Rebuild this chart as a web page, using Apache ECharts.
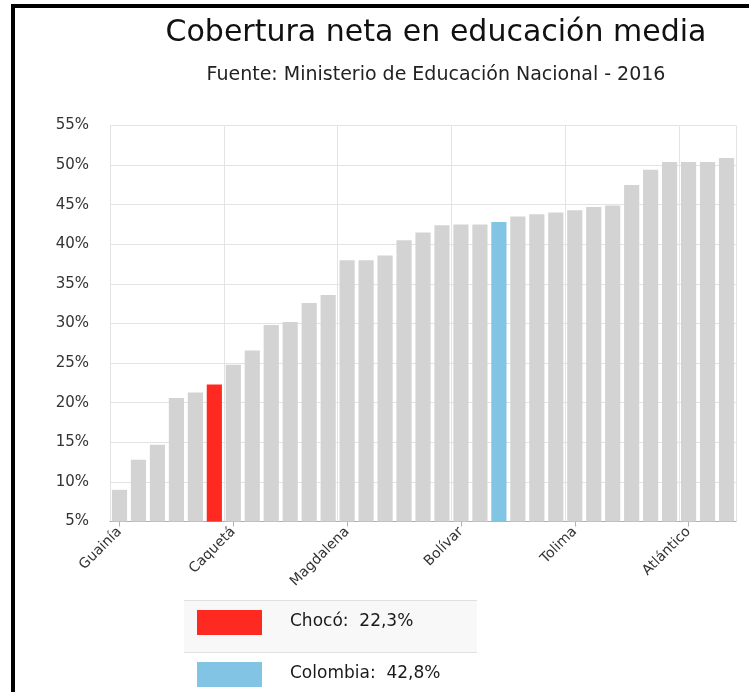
<!DOCTYPE html>
<html>
<head>
<meta charset="utf-8">
<script src="https://cdn.jsdelivr.net/npm/echarts@6/dist/echarts.min.js"></script>
<style>
  html, body { margin: 0; padding: 0; background: #fff; overflow: hidden; }
  #chart { width: 749px; height: 692px; }
</style>
</head>
<body>
<div id="chart"></div>
<script>
// ---- data ----
const titleText = 'Cobertura neta en educación media';
const subtitleText = 'Fuente: Ministerio de Educación Nacional - 2016';
const departments = [
  'Guainía', 'Vaupés', 'Vichada', 'Amazonas', 'Guaviare', 'Chocó',
  'Caquetá', 'Putumayo', 'La Guajira', 'Arauca', 'Córdoba', 'Cesar',
  'Magdalena', 'Sucre', 'Nariño', 'Cauca', 'Casanare', 'Huila',
  'Bolívar', 'Norte de Santander', 'Colombia', 'Caldas', 'Risaralda', 'Valle del Cauca',
  'Tolima', 'Meta', 'Antioquia', 'Quindío', 'Cundinamarca', 'Santander',
  'Atlántico', 'Boyacá', 'Bogotá D.C.'
];
const coverage = [
  9.0, 12.8, 14.7, 20.6, 21.3, 22.3,
  24.8, 26.6, 29.8, 30.2, 32.6, 33.6,
  38.0, 38.0, 38.6, 40.5, 41.5, 42.4,
  42.5, 42.5, 42.8, 43.5, 43.8, 44.0,
  44.3, 44.7, 44.9, 47.5, 49.4, 50.4,
  50.4, 50.4, 50.9
];
const yTicks = [5, 10, 15, 20, 25, 30, 35, 40, 45, 50, 55];
const highlightNames = ['Chocó', 'Colombia'];
const highlightColors = ['#fe2a22', '#82c4e4'];
const baseColor = '#d3d3d3';

// ---- build ----
const fmt = v => v.toFixed(1).replace('.', ',') + '%';
const seriesData = coverage.map((v, i) => {
  const h = highlightNames.indexOf(departments[i]);
  return { value: v, itemStyle: { color: h >= 0 ? highlightColors[h] : baseColor } };
});

const legendGraphics = [];
highlightNames.forEach((name, k) => {
  const idx = departments.indexOf(name);
  const top = 600 + k * 52;
  if (k === 0) {
    legendGraphics.push({ type: 'rect', shape: { x: 184, y: top, width: 293, height: 52 },
      style: { fill: '#f8f8f8' }, z: 1 });
  }
  legendGraphics.push({ type: 'line', shape: { x1: 184, y1: top + 0.5, x2: 477, y2: top + 0.5 },
    style: { stroke: '#e0e0e0', lineWidth: 1 }, z: 2 });
  legendGraphics.push({ type: 'rect', shape: { x: 197, y: top + 10, width: 65, height: 25 },
    style: { fill: highlightColors[k] }, z: 3 });
  legendGraphics.push({ type: 'text', x: 290, y: top + 22, z: 3,
    style: { text: name + ':  ' + fmt(coverage[idx]), font: '17px "DejaVu Sans"', fill: '#1a1a1a',
      textAlign: 'left', textVerticalAlign: 'middle' } });
});

const chart = echarts.init(document.getElementById('chart'));
chart.setOption({
  backgroundColor: '#fff',
  animation: false,
  grid: { left: 110, right: 13, top: 125.5, bottom: 170.5, containLabel: false },
  xAxis: {
    type: 'category',
    data: departments,
    boundaryGap: true,
    axisLine: { show: true, lineStyle: { color: '#b0b0b0', width: 1 } },
    axisTick: { show: true, alignWithLabel: true, interval: 5, length: 5, lineStyle: { color: '#b0b0b0' } },
    axisLabel: { interval: 5, rotate: 45, margin: 8, color: '#333',
      fontFamily: 'DejaVu Sans', fontSize: 14 },
    splitLine: { show: true, interval: 5, lineStyle: { color: '#e3e3e3', width: 1 } }
  },
  yAxis: {
    type: 'value',
    min: yTicks[0],
    max: yTicks[yTicks.length - 1],
    interval: yTicks[1] - yTicks[0],
    axisLine: { show: false },
    axisTick: { show: false },
    axisLabel: { formatter: '{value}%', margin: 21, color: '#333',
      fontFamily: 'DejaVu Sans', fontSize: 15 },
    splitLine: { show: true, lineStyle: { color: '#e3e3e3', width: 1 } }
  },
  series: [{
    type: 'bar',
    data: seriesData,
    barCategoryGap: '20%',
    z: 3
  }],
  graphic: [
    { type: 'rect', shape: { x: 13, y: 6, width: 1200, height: 1200 },
      style: { fill: 'none', stroke: '#000', lineWidth: 4 }, z: 10 },
    { type: 'text', x: 436, y: 33, z: 5,
      style: { text: titleText, font: '30px "DejaVu Sans"', fill: '#111',
        textAlign: 'center', textVerticalAlign: 'middle' } },
    { type: 'text', x: 436, y: 75, z: 5,
      style: { text: subtitleText, font: '19px "DejaVu Sans"', fill: '#222',
        textAlign: 'center', textVerticalAlign: 'middle' } }
  ].concat(legendGraphics)
});
</script>
</body>
</html>
